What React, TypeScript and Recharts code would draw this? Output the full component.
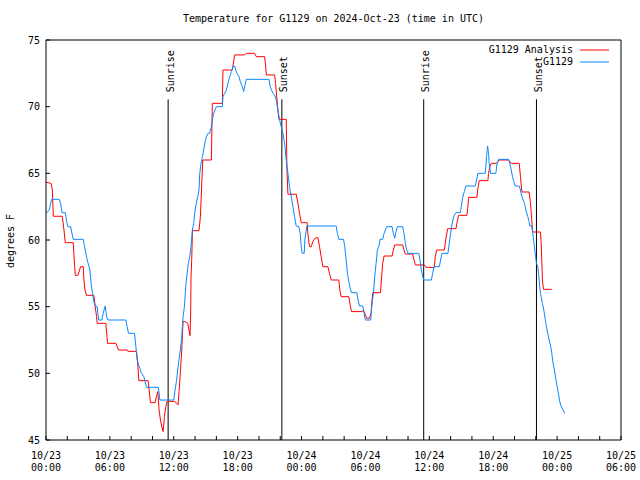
import { LineChart, Line, XAxis, YAxis, ReferenceLine } from 'recharts';

// hours since 10/23 00:00 UTC and temperatures (°F)
const analysisHours = [
  0, 0.47, 0.59, 0.69, 1.53, 1.69, 1.81, 2.56, 2.69, 2.75, 3.0, 3.25, 3.5, 3.56, 3.66, 3.81,
  4.5, 4.62, 4.75, 4.81, 5.62, 5.78, 6.56, 6.81, 7.62, 7.69, 8.5, 8.59, 8.72, 9.59, 9.69, 9.81,
  10.25, 10.37, 10.5, 10.62, 10.75, 10.87, 11.0, 11.12, 11.25, 11.37, 12.09, 12.25, 12.4, 12.5,
  12.62, 12.75, 12.81, 12.87, 13.06, 13.31, 13.53, 13.59, 13.62, 13.69, 13.75, 14.37, 14.5, 14.72,
  15.53, 15.62, 16.56, 16.62, 17.5, 17.72, 18.66, 18.81, 19.59, 19.75, 20.53, 20.62, 20.69, 21.47,
  21.56, 21.78, 21.87, 22.56, 22.62, 22.72, 23.5, 23.66, 23.81, 23.97, 24.53, 24.59, 24.75, 24.91,
  25.06, 25.25, 25.53, 25.69, 25.84, 26.0, 26.47, 26.62, 26.78, 27.5, 27.62, 27.72, 28.44, 28.56,
  28.69, 29.69, 29.81, 30.0, 30.12, 30.37, 30.53, 30.62, 30.69, 31.41, 31.5, 31.62, 31.75, 32.5,
  32.62, 32.75, 33.5, 33.62, 33.75, 34.44, 34.56, 34.69, 35.53, 35.69, 36.47, 36.56, 36.69, 37.41,
  37.56, 37.72, 38.5, 38.62, 38.75, 39.53, 39.62, 39.69, 40.47, 40.56, 40.69, 41.5, 41.56, 41.69,
  41.81, 42.31, 42.56, 43.44, 43.69, 44.44, 44.56, 44.69, 45.37, 45.5, 45.62, 45.69, 46.43, 46.5,
  46.56, 46.62, 46.72, 47.5,
];
const analysisTemps = [
  64.33, 64.25, 63.8, 61.78, 61.78, 60.75, 59.8, 59.8, 58.0, 57.35, 57.35, 58.0, 58.0, 57.0, 56.25, 55.85,
  55.85, 55.0, 54.25, 53.75, 53.75, 52.25, 52.25, 51.75, 51.75, 51.65, 51.65, 51.0, 49.45, 49.45, 48.75, 47.8,
  47.8, 48.25, 48.63, 47.25, 46.5, 46.0, 45.63, 46.75, 47.5, 47.9, 47.9, 47.75, 47.63, 48.63,
  50.13, 51.75, 52.88, 53.88, 53.88, 53.75, 52.83, 54.75, 57.25, 58.63, 60.7, 60.7, 61.75, 66.0,
  66.0, 70.25, 70.25, 72.75, 72.75, 73.88, 73.88, 74.0, 74.0, 73.75, 73.75, 73.13, 72.38, 72.38,
  71.75, 69.75, 69.05, 69.05, 65.5, 63.43, 63.43, 62.75, 62.0, 61.3, 61.3, 60.5, 59.5, 59.5,
  59.88, 60.13, 60.2, 59.5, 58.75, 58.0, 58.0, 57.5, 57.0, 57.0, 56.13, 55.75, 55.75, 55.13,
  54.63, 54.63, 54.75, 54.38, 54.13, 54.13, 54.5, 55.5, 56.05, 56.05, 57.0, 58.25, 58.8, 58.8,
  59.25, 59.63, 59.63, 59.25, 58.95, 58.95, 58.5, 58.13, 58.13, 57.95, 57.95, 58.75, 59.25, 59.25,
  60.13, 60.85, 60.85, 61.38, 61.85, 61.85, 62.5, 63.2, 63.2, 63.88, 64.45, 64.45, 65.0, 65.5,
  65.75, 65.75, 66.0, 66.0, 65.75, 65.75, 64.75, 63.6, 63.6, 62.75, 61.5, 60.6, 60.6, 59.88,
  58.5, 57.0, 56.3, 56.3,
];

const obsHours = [
  0, 0.31, 0.44, 0.53, 1.25, 1.37, 1.5, 1.81, 1.94, 2.06, 2.31, 2.44, 2.56, 3.5, 3.62, 3.75,
  3.87, 4.0, 4.12, 4.25, 4.37, 4.5, 4.62, 4.81, 4.94, 5.25, 5.37, 5.56, 5.69, 5.81, 7.5, 7.62,
  7.75, 8.31, 8.44, 8.56, 8.81, 8.94, 9.19, 9.31, 9.44, 10.56, 10.69, 12.0, 12.12, 12.25, 12.37,
  12.5, 12.62, 12.75, 12.87, 13.0, 13.12, 13.25, 13.37, 13.5, 13.62, 13.75, 13.87, 14.0, 14.12,
  14.25, 14.37, 14.44, 14.56, 14.69, 14.81, 14.94, 15.06, 15.22, 15.37, 15.53, 15.62, 15.75,
  15.87, 16.0, 16.56, 16.62, 16.78, 16.94, 17.09, 17.25, 17.41, 17.56, 17.72, 17.81, 17.94,
  18.12, 18.25, 18.44, 18.56, 18.69, 18.81, 20.94, 21.06, 21.31, 21.47, 21.62, 21.78, 21.94,
  22.09, 22.25, 22.41, 22.56, 22.72, 22.87, 23.03, 23.19, 23.34, 23.5, 23.75, 23.87, 23.97,
  24.06, 24.25, 24.31, 24.44, 24.5, 27.25, 27.37, 27.5, 27.94, 28.06, 28.19, 28.31, 28.44,
  28.56, 28.69, 29.19, 29.31, 29.44, 29.75, 29.87, 30.0, 30.5, 30.62, 30.75, 30.87, 31.0,
  31.12, 31.25, 31.37, 31.62, 31.75, 31.87, 32.0, 32.5, 32.62, 32.75, 32.87, 33.0, 33.5,
  33.62, 33.75, 33.87, 34.0, 35.0, 35.12, 35.25, 35.37, 35.5, 36.19, 36.31, 36.44, 36.94,
  37.06, 37.19, 37.75, 37.87, 38.0, 38.12, 38.25, 38.37, 38.5, 38.91, 39.0, 39.12, 39.28,
  39.44, 40.31, 40.44, 40.56, 41.25, 41.31, 41.37, 41.47, 41.56, 41.62, 41.75, 42.25, 42.34,
  42.5, 43.44, 43.56, 43.69, 43.81, 43.94, 44.06, 44.44, 44.56, 44.69, 44.81, 44.94, 45.06,
  45.25, 45.37, 45.44, 45.62, 45.69, 45.75, 45.87, 45.94, 46.06, 46.19, 46.25, 46.31, 46.37,
  46.44, 46.5, 46.62, 46.75, 46.87, 47.0, 47.12, 47.25, 47.37, 47.5, 47.62, 47.75, 47.87,
  48.0, 48.12, 48.25, 48.37, 48.56, 48.72,
];
const obsTemps = [
  62.0, 62.25, 62.75, 63.05, 63.05, 62.75, 62.05, 62.05, 61.38, 61.0, 61.0, 60.5, 60.05, 60.05, 59.5, 59.0,
  58.5, 58.13, 57.75, 56.63, 56.0, 55.38, 55.05, 55.0, 54.0, 54.0, 54.5, 55.05, 54.25, 54.0, 54.0, 53.5,
  53.0, 53.0, 52.0, 51.0, 50.38, 50.05, 49.75, 49.38, 48.95, 48.95, 48.0, 48.0, 48.75, 49.4, 50.25,
  51.13, 51.75, 52.75, 54.25, 55.0, 56.5, 57.5, 58.25, 58.75, 59.5, 60.75, 61.25, 62.25, 62.75,
  63.25, 63.75, 65.0, 65.75, 66.25, 66.75, 67.38, 67.75, 68.0, 68.0, 68.5, 69.0, 69.5,
  69.75, 70.0, 70.0, 70.75, 71.0, 71.25, 71.75, 72.25, 72.63, 73.0, 73.05, 72.75, 72.5,
  72.25, 71.88, 71.5, 71.13, 71.63, 72.05, 72.05, 71.5, 71.0, 70.88, 70.5, 69.75, 69.0,
  68.5, 68.0, 67.25, 66.0, 65.0, 64.0, 63.25, 62.5, 61.75, 61.05, 61.0, 60.5, 59.5,
  59.0, 59.0, 60.0, 60.75, 61.05, 61.05, 60.5, 60.05, 60.05, 59.5, 58.5, 57.5, 56.88,
  56.38, 56.05, 56.05, 55.5, 55.05, 55.05, 54.5, 54.0, 54.0, 55.25, 56.0, 57.25, 58.25,
  59.25, 59.5, 60.05, 60.05, 60.5, 60.75, 61.0, 61.0, 60.5, 60.13, 60.63, 61.0, 61.0,
  60.5, 59.75, 59.25, 59.0, 59.0, 58.5, 57.75, 57.25, 57.0, 57.0, 57.5, 58.0, 58.0,
  58.5, 59.0, 59.0, 59.75, 60.5, 61.13, 61.63, 61.88, 62.05, 62.05, 62.5, 63.13, 63.63,
  64.05, 64.05, 64.5, 65.0, 65.0, 65.5, 66.25, 67.05, 66.5, 65.75, 65.0, 65.0, 65.63,
  66.05, 66.05, 65.75, 65.25, 64.75, 64.38, 64.05, 64.05, 63.75, 63.25, 63.0, 62.75, 62.25,
  61.75, 61.38, 61.05, 61.05, 60.75, 60.25, 59.5, 59.0, 58.25, 58.0, 57.5, 57.0, 56.5,
  56.0, 55.75, 55.25, 54.75, 54.13, 53.5, 53.0, 52.5, 52.13, 51.5, 50.75, 50.25, 49.63,
  49.0, 48.5, 47.88, 47.55, 47.25, 47.0,
];

const sunHours = [11.47, 22.15, 35.47, 46.06];
const sunNames = ['Sunrise', 'Sunset', 'Sunrise', 'Sunset'];

const xTicks = Array.from({ length: 28 }, (_, i) => i * 2);
const xTickDates = ['10/23', '10/23', '10/23', '10/23', '10/24', '10/24', '10/24', '10/24', '10/25', '10/25'];
const xTickTimes = ['00:00', '06:00', '12:00', '18:00', '00:00', '06:00', '12:00', '18:00', '00:00', '06:00'];
const yTicks = [45, 50, 55, 60, 65, 70, 75];

const analysisData = analysisHours.map((h, i) => ({ hour: h, temp: analysisTemps[i] }));
const obsData = obsHours.map((h, i) => ({ hour: h, temp: obsTemps[i] }));

const FONT = '"DejaVu Sans Mono", "Liberation Mono", monospace';
const RED = '#ff0000';
const BLUE = '#0a88ff';

function BottomTick(props: any) {
  const { x, y, payload } = props;
  const v = payload.value;
  const idx = v / 6;
  return (
    <g>
      <line x1={x} y1={y} x2={x} y2={y - 4} stroke="#000" />
      {v % 6 === 0 && (
        <text x={x} y={y} textAnchor="middle" fontFamily={FONT} fontSize={10} fill="#000">
          <tspan x={x} dy={18.5}>{xTickDates[idx]}</tspan>
          <tspan x={x} dy={12}>{xTickTimes[idx]}</tspan>
        </text>
      )}
    </g>
  );
}

function TopTick(props: any) {
  const { x, y } = props;
  return <line x1={x} y1={y} x2={x} y2={y + 4} stroke="#000" />;
}

function LeftTick(props: any) {
  const { x, y, payload } = props;
  return (
    <g>
      <line x1={x} y1={y} x2={x + 4} y2={y} stroke="#000" />
      <text x={x - 6} y={y + 3.5} textAnchor="end" fontFamily={FONT} fontSize={10} fill="#000">
        {payload.value}
      </text>
    </g>
  );
}

function RightTick(props: any) {
  const { x, y } = props;
  return <line x1={x} y1={y} x2={x - 4} y2={y} stroke="#000" />;
}

const sunLabel = (text: string) => (props: any) => {
  const vb = props.viewBox || {};
  const lx = (vb.x ?? 0) + 5.5;
  const ly = (vb.y ?? 0) - 7;
  return (
    <text
      x={lx}
      y={ly}
      transform={`rotate(-90 ${lx} ${ly})`}
      textAnchor="start"
      fontFamily={FONT}
      fontSize={10}
      fill="#000"
    >
      {text}
    </text>
  );
};

export default function App() {
  return (
    <div style={{ position: 'absolute', left: 0, top: 0, width: 640, height: 480, background: '#fff' }}>
      <LineChart
        width={640}
        height={480}
        margin={{ top: 39, right: 18, bottom: 0, left: 0 }}
      >
        <XAxis
          xAxisId="b"
          dataKey="hour"
          type="number"
          domain={[0, 54]}
          ticks={xTicks}
          interval={0}
          tickSize={0}
          tickMargin={0}
          tickLine={false}
          height={40}
          axisLine={{ stroke: '#000' }}
          tick={<BottomTick />}
        />
        <XAxis
          xAxisId="t"
          orientation="top"
          dataKey="hour"
          type="number"
          domain={[0, 54]}
          ticks={xTicks}
          interval={0}
          tickSize={0}
          tickMargin={0}
          tickLine={false}
          height={1}
          axisLine={{ stroke: '#000' }}
          tick={<TopTick />}
        />
        <YAxis
          yAxisId="l"
          type="number"
          domain={[45, 75]}
          ticks={yTicks}
          interval={0}
          tickSize={0}
          tickMargin={0}
          tickLine={false}
          width={46}
          axisLine={{ stroke: '#000' }}
          tick={<LeftTick />}
        />
        <YAxis
          yAxisId="r"
          orientation="right"
          type="number"
          domain={[45, 75]}
          ticks={yTicks}
          interval={0}
          tickSize={0}
          tickMargin={0}
          tickLine={false}
          width={1}
          axisLine={{ stroke: '#000' }}
          tick={<RightTick />}
        />
        {sunHours.map((h, i) => (
          <ReferenceLine
            key={i}
            xAxisId="b"
            yAxisId="l"
            segment={[{ x: h, y: 70.55 }, { x: h, y: 45 }]}
            stroke="#000"
            strokeWidth={1}
            label={sunLabel(sunNames[i])}
          />
        ))}
        <Line
          xAxisId="b"
          yAxisId="l"
          data={analysisData}
          dataKey="temp"
          type="linear"
          stroke={RED}
          strokeWidth={1}
          dot={false}
          activeDot={false}
          isAnimationActive={false}
        />
        <Line
          xAxisId="b"
          yAxisId="l"
          data={obsData}
          dataKey="temp"
          type="linear"
          stroke={BLUE}
          strokeWidth={1}
          dot={false}
          activeDot={false}
          isAnimationActive={false}
        />
      </LineChart>

      <div
        style={{
          position: 'absolute', left: 46, width: 575, top: 13, textAlign: 'center',
          fontFamily: FONT, fontSize: 10, lineHeight: '12px', color: '#000',
        }}
      >
        Temperature for G1129 on 2024-Oct-23 (time in UTC)
      </div>

      <div
        style={{
          position: 'absolute', left: 11, top: 241, transform: 'translate(-50%, -50%) rotate(-90deg)',
          fontFamily: FONT, fontSize: 10, lineHeight: '12px', whiteSpace: 'nowrap', color: '#000',
        }}
      >
        degrees F
      </div>

      <div style={{ position: 'absolute', right: 31, top: 44, fontFamily: FONT, fontSize: 10, lineHeight: '12px' }}>
        {[
          { name: 'G1129 Analysis', color: RED },
          { name: 'G1129', color: BLUE },
        ].map((s) => (
          <div key={s.name} style={{ display: 'flex', alignItems: 'center', justifyContent: 'flex-end', height: 12 }}>
            <span>{s.name}</span>
            <svg width={36} height={12} style={{ display: 'block' }}>
              <line x1={7} y1={6} x2={36} y2={6} stroke={s.color} strokeWidth={1} />
            </svg>
          </div>
        ))}
      </div>
    </div>
  );
}
